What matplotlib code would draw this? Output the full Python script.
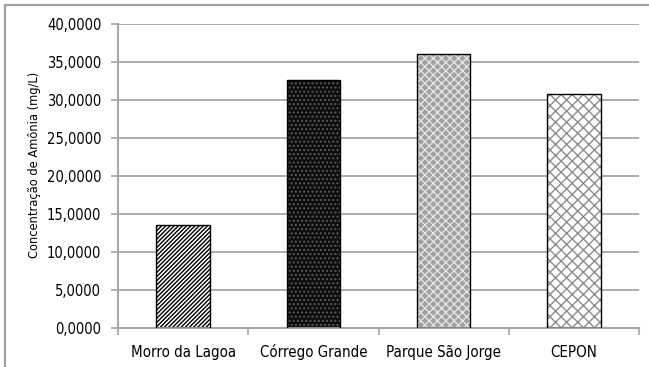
import matplotlib
matplotlib.use("Agg")
import matplotlib.pyplot as plt
from matplotlib.lines import Line2D
from matplotlib.ticker import FixedLocator, FuncFormatter

# Ammonia concentration per sampling site
sites = ["Morro da Lagoa", "Córrego Grande", "Parque São Jorge", "CEPON"]
ammonia = [13.55, 32.6, 36.0, 30.8]
y_ticks = [0, 5, 10, 15, 20, 25, 30, 35, 40]

# per-bar fill: (face, hatch, hatch colour)
fills = [
    ("white", "////////", "black"),
    ("#0d0d0d", "....", "#5a5a5a"),
    ("#a0a0a0", "xxxx", "#e4e4e4"),
    ("white", "xxx", "#8c8c8c"),
]

plt.rcParams["font.family"] = "DejaVu Sans"
plt.rcParams["font.stretch"] = "condensed"
plt.rcParams["hatch.linewidth"] = 1.0
grid_gray = "#a6a6a6"

fig = plt.figure(figsize=(6.49, 3.67), dpi=100)
ax = fig.add_axes([118 / 649, 1 - 328 / 367, 521 / 649, 304 / 367])

x = range(len(sites))
width = 0.41
for xi, val, (face, hatch, hcol) in zip(x, ammonia, fills):
    ax.bar(xi, val, width=width, color=face, edgecolor=hcol, hatch=hatch,
           linewidth=0, zorder=2)
    ax.bar(xi, val, width=width, fill=False, edgecolor="black",
           linewidth=1.0, zorder=3)

ax.set_xlim(-0.5, len(sites) - 0.5)
ax.set_ylim(0, 40)
ax.set_yticks(y_ticks)
ax.yaxis.set_major_formatter(FuncFormatter(lambda v, _: f"{v:.4f}".replace(".", ",")))
ax.yaxis.grid(True, color=grid_gray, linewidth=1.3, zorder=0)
ax.set_axisbelow(True)

ax.set_xticks(list(x))
ax.set_xticklabels(sites, va="baseline")
ax.xaxis.set_minor_locator(FixedLocator([i - 0.5 for i in range(len(sites) + 1)]))
ax.tick_params(axis="x", which="major", length=0, pad=21, labelsize=10.8)
ax.tick_params(axis="x", which="minor", length=5, color=grid_gray, width=1.2)
ax.tick_params(axis="y", length=5, color=grid_gray, width=1.2, labelsize=10.5, pad=7)

for side in ("top", "right"):
    ax.spines[side].set_visible(False)
for side in ("left", "bottom"):
    ax.spines[side].set_color(grid_gray)
    ax.spines[side].set_linewidth(1.5)

ax.set_ylabel("Concentração de Amônia (mg/L)", fontsize=9.2)
ax.yaxis.set_label_coords(-0.147, 0.536)

# chart frame: only left and top edges fall inside the canvas
fx, fy = 4.5 / 649, 1 - 4.5 / 367
fig.add_artist(Line2D([fx, fx], [0, fy], transform=fig.transFigure,
                      color="#a0a0a0", linewidth=1.5))
fig.add_artist(Line2D([fx, 1], [fy, fy], transform=fig.transFigure,
                      color="#a0a0a0", linewidth=1.5))

fig.savefig("out.png", dpi=100)
